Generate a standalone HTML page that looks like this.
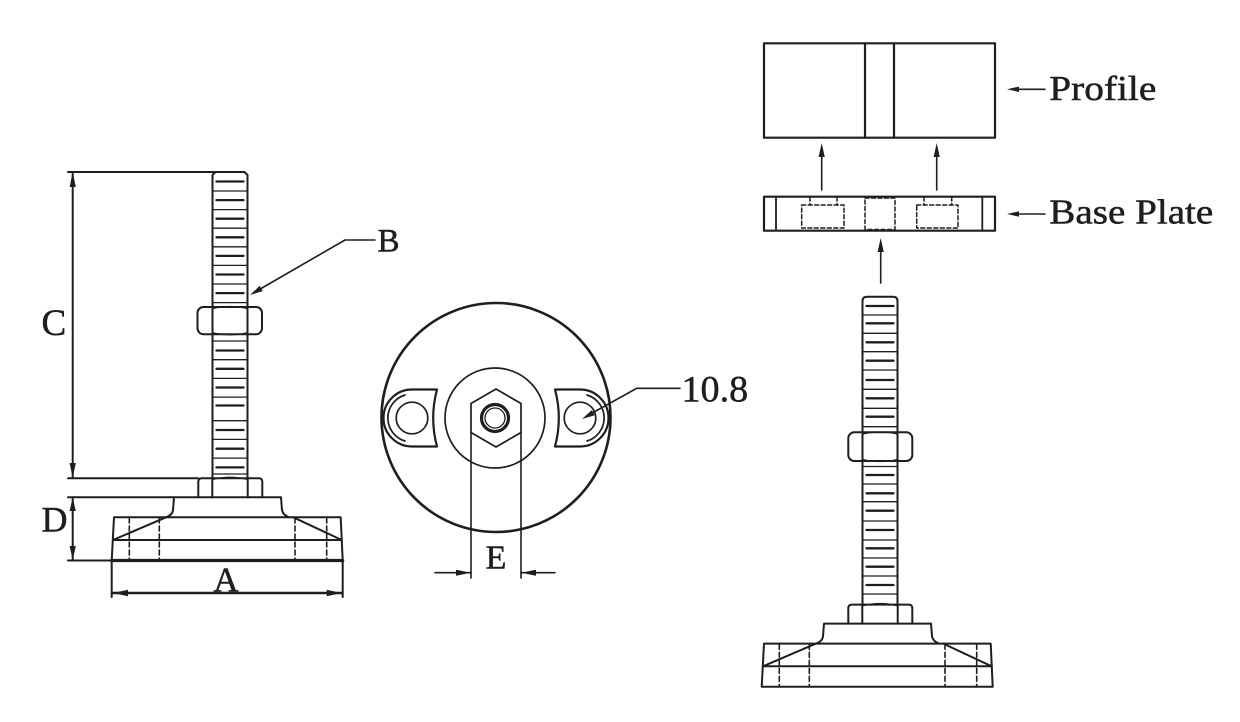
<!DOCTYPE html>
<html><head><meta charset="utf-8"><style>
html,body{margin:0;padding:0;background:#fff;}
svg{display:block;}
text{font-family:"Liberation Serif","Times New Roman",serif;fill:#1e1e1e;stroke:#1e1e1e;stroke-width:0.5;}
</style></head><body>
<svg width="1240" height="722" viewBox="0 0 1240 722" xmlns="http://www.w3.org/2000/svg">
<rect width="1240" height="722" fill="#fff"/>
<g stroke="#1e1e1e" stroke-width="2" fill="none" stroke-linecap="round" stroke-linejoin="round">

<!-- ================= LEFT FOOT ================= -->
<line x1="68" y1="172" x2="214" y2="172"/>
<line x1="72.7" y1="172" x2="72.7" y2="478"/>
<line x1="68" y1="478.3" x2="198" y2="478.3"/>
<line x1="68" y1="497.3" x2="174" y2="497.3"/>
<line x1="72.7" y1="497.3" x2="72.7" y2="560"/>
<line x1="68" y1="560.5" x2="112" y2="560.5"/>
<line x1="111.7" y1="560" x2="111.7" y2="597"/>
<line x1="342.7" y1="560" x2="342.7" y2="597"/>
<line x1="113" y1="593" x2="341.7" y2="593" stroke-width="2.6"/>

<path d="M212.5,478 V175 L215.5,172 H244.5 L247.5,175 V478" fill="#fff"/>
<g stroke-width="1.3">
<line x1="212.5" y1="191" x2="247.5" y2="191"/><line x1="212.5" y1="209.6" x2="247.5" y2="209.6"/>
<line x1="212.5" y1="228.2" x2="247.5" y2="228.2"/><line x1="212.5" y1="246.8" x2="247.5" y2="246.8"/>
<line x1="212.5" y1="265.4" x2="247.5" y2="265.4"/><line x1="212.5" y1="284" x2="247.5" y2="284"/>
<line x1="212.5" y1="302.6" x2="247.5" y2="302.6"/>
<line x1="212.5" y1="341" x2="247.5" y2="341"/><line x1="212.5" y1="359.7" x2="247.5" y2="359.7"/>
<line x1="212.5" y1="378.4" x2="247.5" y2="378.4"/><line x1="212.5" y1="397.1" x2="247.5" y2="397.1"/>
<line x1="212.5" y1="420.7" x2="247.5" y2="420.7"/><line x1="212.5" y1="439.4" x2="247.5" y2="439.4"/>
<line x1="212.5" y1="458.1" x2="247.5" y2="458.1"/><line x1="212.5" y1="474" x2="247.5" y2="474"/>
</g>
<g stroke-width="2.3">
<line x1="216.5" y1="181.5" x2="243.5" y2="181.5"/><line x1="216.5" y1="200.1" x2="243.5" y2="200.1"/>
<line x1="216.5" y1="218.7" x2="243.5" y2="218.7"/><line x1="216.5" y1="237.3" x2="243.5" y2="237.3"/>
<line x1="216.5" y1="255.9" x2="243.5" y2="255.9"/><line x1="216.5" y1="274.5" x2="243.5" y2="274.5"/>
<line x1="216.5" y1="293.1" x2="243.5" y2="293.1"/>
<line x1="216.5" y1="350.5" x2="243.5" y2="350.5"/><line x1="216.5" y1="368.8" x2="243.5" y2="368.8"/>
<line x1="216.5" y1="387.5" x2="243.5" y2="387.5"/><line x1="216.5" y1="405.5" x2="243.5" y2="405.5"/>
<line x1="216.5" y1="430" x2="243.5" y2="430"/><line x1="216.5" y1="448.7" x2="243.5" y2="448.7"/>
<line x1="216.5" y1="467.4" x2="243.5" y2="467.4"/>
</g>
<rect x="197.5" y="307" width="64.5" height="27.3" rx="6" fill="#fff"/>
<line x1="212.5" y1="307" x2="212.5" y2="334.3"/>
<line x1="247.5" y1="307" x2="247.5" y2="334.3"/>
<path d="M212.5,308.5 Q230,304.5 247.5,308.5" stroke-width="1.3"/>
<path d="M212.5,332.8 Q230,336.8 247.5,332.8" stroke-width="1.3"/>

<g id="base">
<path d="M198.3,497.3 V482 Q198.3,478.3 202,478.3 H258.6 Q262.3,478.3 262.3,482 V497.3" fill="#fff"/>
<line x1="212.3" y1="478.3" x2="212.3" y2="497.3"/>
<line x1="247.7" y1="478.3" x2="247.7" y2="497.3"/>
<path d="M212.3,479.5 Q230,475 247.7,479.5" stroke-width="1.3"/>
<path d="M166,517.3 Q172.5,515 173,510 L174,497.3 H281 L282,510 Q283,515 289,517.3"/>
<path d="M114,517.3 H340.7 L342.7,560.5 H111.7 Z"/>
<line x1="113" y1="540" x2="341.7" y2="540"/>
<line x1="113" y1="540" x2="166" y2="517.3"/>
<line x1="293.3" y1="517.3" x2="341.7" y2="540"/>
<g stroke-dasharray="5,3" stroke-width="1.6">
<line x1="129.3" y1="518" x2="129.3" y2="560"/>
<line x1="159.3" y1="518" x2="159.3" y2="560"/>
<line x1="295" y1="518" x2="295" y2="560"/>
<line x1="326.7" y1="518" x2="326.7" y2="560"/>
</g>
</g>
<line x1="111.7" y1="560.5" x2="342.7" y2="560.5" stroke-width="3.2"/>

<polyline points="255,292 345,240 375,240" stroke-width="1.6"/>

<!-- ================= CIRCLE VIEW ================= -->
<circle cx="496" cy="417.5" r="114.5" stroke-width="2.6"/>
<circle cx="495" cy="418" r="50" stroke-width="1.7"/>
<polygon points="496,389 521,403.5 521,432.5 496,447 471,432.5 471,403.5" stroke-width="1.7"/>
<circle cx="495" cy="418" r="13.5" stroke-width="3.2"/>
<circle cx="495" cy="418" r="10" stroke-width="1.3"/>
<path d="M437,389.5 L412,389.5 A28.5,28.5 0 0 0 412,446.5 L437,446.5 A110,110 0 0 1 437,389.5 Z" fill="#fff" stroke-width="2.2"/>
<path d="M405,395 A24,24 0 0 0 405,441" stroke-width="1.7"/>
<circle cx="412" cy="418" r="15.8" stroke-width="1.7"/>
<path d="M555,389.5 L580,389.5 A28.5,28.5 0 0 1 580,446.5 L555,446.5 A110,110 0 0 0 555,389.5 Z" fill="#fff" stroke-width="2.2"/>
<path d="M587,395 A24,24 0 0 1 587,441" stroke-width="1.7"/>
<circle cx="580" cy="418" r="15.8" stroke-width="1.7"/>
<line x1="471" y1="432.5" x2="471" y2="578" stroke-width="1.6"/>
<line x1="521" y1="432.5" x2="521" y2="578" stroke-width="1.6"/>
<line x1="435" y1="572.7" x2="471" y2="572.7" stroke-width="1.6"/>
<line x1="521" y1="572.7" x2="555" y2="572.7" stroke-width="1.6"/>
<polyline points="586,416.5 636.7,388.3 680,388.3" stroke-width="1.6"/>

<!-- ================= RIGHT SIDE ================= -->
<rect x="764" y="43.3" width="231" height="94.4" stroke-width="2.2"/>
<line x1="865" y1="43.3" x2="865" y2="137.7" stroke-width="2.2"/>
<line x1="894" y1="43.3" x2="894" y2="137.7" stroke-width="2.2"/>
<rect x="764" y="196.7" width="231" height="34" stroke-width="2.2"/>
<line x1="776" y1="196.7" x2="776" y2="230.7" stroke-width="1.8"/>
<line x1="982.3" y1="196.7" x2="982.3" y2="230.7" stroke-width="1.8"/>
<g stroke-dasharray="4,2.5" stroke-width="1.5">
<rect x="801.7" y="205" width="42.3" height="23"/>
<line x1="810" y1="197" x2="810" y2="205"/><line x1="837" y1="197" x2="837" y2="205"/>
<rect x="865" y="198" width="30" height="31.5"/>
<rect x="916.7" y="205" width="41.3" height="23"/>
<line x1="924" y1="197" x2="924" y2="205"/><line x1="951.7" y1="197" x2="951.7" y2="205"/>
</g>
<line x1="821.7" y1="150" x2="821.7" y2="190" stroke-width="1.6"/>
<line x1="936.7" y1="150" x2="936.7" y2="190" stroke-width="1.6"/>
<line x1="880.7" y1="245" x2="880.7" y2="283" stroke-width="1.6"/>
<line x1="1012" y1="89.3" x2="1045" y2="89.3" stroke-width="1.6"/>
<line x1="1012" y1="214" x2="1045" y2="214" stroke-width="1.6"/>

<path d="M862.5,604 V301 Q862.5,296.7 867,296.7 H893 Q897.5,296.7 897.5,301 V604" fill="#fff"/>
<g stroke-width="1.3">
<line x1="862.5" y1="315" x2="897.5" y2="315"/><line x1="862.5" y1="333.3" x2="897.5" y2="333.3"/>
<line x1="862.5" y1="351.7" x2="897.5" y2="351.7"/><line x1="862.5" y1="370" x2="897.5" y2="370"/>
<line x1="862.5" y1="389.3" x2="897.5" y2="389.3"/><line x1="862.5" y1="408.3" x2="897.5" y2="408.3"/>
<line x1="862.5" y1="426.7" x2="897.5" y2="426.7"/>
<line x1="862.5" y1="466.5" x2="897.5" y2="466.5"/><line x1="862.5" y1="484" x2="897.5" y2="484"/>
<line x1="862.5" y1="501.7" x2="897.5" y2="501.7"/><line x1="862.5" y1="521" x2="897.5" y2="521"/>
<line x1="862.5" y1="540" x2="897.5" y2="540"/><line x1="862.5" y1="558" x2="897.5" y2="558"/>
<line x1="862.5" y1="576" x2="897.5" y2="576"/><line x1="862.5" y1="594" x2="897.5" y2="594"/>
</g>
<g stroke-width="2.3">
<line x1="866.5" y1="306" x2="893.5" y2="306"/><line x1="866.5" y1="323.3" x2="893.5" y2="323.3"/>
<line x1="866.5" y1="342.3" x2="893.5" y2="342.3"/><line x1="866.5" y1="360.7" x2="893.5" y2="360.7"/>
<line x1="866.5" y1="380" x2="893.5" y2="380"/><line x1="866.5" y1="398.3" x2="893.5" y2="398.3"/>
<line x1="866.5" y1="416.7" x2="893.5" y2="416.7"/>
<line x1="866.5" y1="475" x2="893.5" y2="475"/><line x1="866.5" y1="493.3" x2="893.5" y2="493.3"/>
<line x1="866.5" y1="510.7" x2="893.5" y2="510.7"/><line x1="866.5" y1="530" x2="893.5" y2="530"/>
<line x1="866.5" y1="548.3" x2="893.5" y2="548.3"/><line x1="866.5" y1="566.7" x2="893.5" y2="566.7"/>
<line x1="866.5" y1="585" x2="893.5" y2="585"/>
</g>
<rect x="848.3" y="432.3" width="64" height="28.7" rx="6" fill="#fff"/>
<line x1="862.5" y1="432.3" x2="862.5" y2="461"/>
<line x1="897.5" y1="432.3" x2="897.5" y2="461"/>
<path d="M862.5,434 Q880,430 897.5,434" stroke-width="1.3"/>
<path d="M862.5,459.5 Q880,463.5 897.5,459.5" stroke-width="1.3"/>

<use href="#base" transform="translate(650,126.3)"/>
</g>

<g fill="#1e1e1e" stroke="none">
<polygon points="72.7,172 69.6,187 75.8,187"/>
<polygon points="72.7,478 69.6,463 75.8,463"/>
<polygon points="72.7,497.5 69.6,511 75.8,511"/>
<polygon points="72.7,560 69.6,546 75.8,546"/>
<polygon points="113,593 128,589.8 128,596.2"/>
<polygon points="341.7,593 326.7,589.8 326.7,596.2"/>
<polygon points="471,572.7 456,569.7 456,575.7"/>
<polygon points="521,572.7 536,569.7 536,575.7"/>
<polygon points="821.7,143 818.6,157 824.8,157"/>
<polygon points="936.7,143 933.6,157 939.8,157"/>
<polygon points="880.7,238 877.6,252 883.8,252"/>
<polygon points="1007,89.3 1019,86.6 1019,92"/>
<polygon points="1007,214 1019,211.3 1019,216.7"/>
<polygon points="250,295 262.7,291.1 259.7,285.9"/>
<polygon points="582,419 594.8,415.3 591.8,410.1"/>
</g>

<text x="41.5" y="335" font-size="37" font-family="Liberation Serif, serif">C</text>
<text x="41.5" y="531.7" font-size="36" font-family="Liberation Serif, serif">D</text>
<text x="226" y="591.7" font-size="35" text-anchor="middle" font-family="Liberation Serif, serif">A</text>
<text x="377.5" y="251.7" font-size="33" font-family="Liberation Serif, serif">B</text>
<text x="496" y="568.3" font-size="34" text-anchor="middle" font-family="Liberation Serif, serif">E</text>
<text x="681.5" y="401.7" font-size="37" textLength="66.7" lengthAdjust="spacingAndGlyphs" font-family="Liberation Serif, serif">10.8</text>
<text x="1049.3" y="100" font-size="35" textLength="107" lengthAdjust="spacingAndGlyphs" font-family="Liberation Serif, serif">Profile</text>
<text x="1049.3" y="223.3" font-size="35" textLength="164" lengthAdjust="spacingAndGlyphs" font-family="Liberation Serif, serif">Base Plate</text>
</svg>
</body></html>
